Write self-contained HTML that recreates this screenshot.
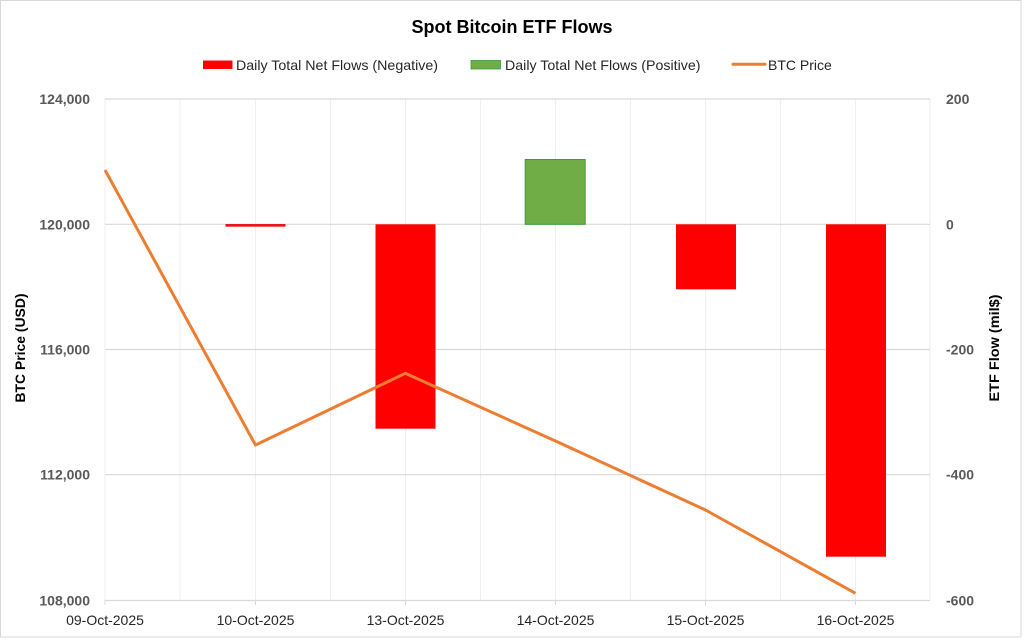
<!DOCTYPE html>
<html>
<head>
<meta charset="utf-8">
<style>
  html, body { margin: 0; padding: 0; background: #ffffff; }
  svg { display: block; }
  text { font-family: "Liberation Sans", Arial, sans-serif; }
</style>
</head>
<body>
<svg width="1024" height="639" viewBox="0 0 1024 639" xmlns="http://www.w3.org/2000/svg">
  <rect x="0" y="0" width="1024" height="639" fill="#ffffff"/>
  <rect x="0.5" y="0.5" width="1020.5" height="636.5" fill="none" stroke="#d9d9d9" stroke-width="1"/>

  <!-- Title -->
  <text x="512" y="33" text-anchor="middle" font-size="18" font-weight="bold" fill="#000">Spot Bitcoin ETF Flows</text>

  <!-- Legend -->
  <rect x="203" y="60.5" width="29.5" height="8.5" fill="#ff0000"/>
  <text x="236" y="70" font-size="14" fill="#262626" textLength="202" lengthAdjust="spacingAndGlyphs">Daily Total Net Flows (Negative)</text>
  <rect x="471" y="60.5" width="29.5" height="8.5" fill="#70ad47" stroke="#3a9c3a" stroke-width="0.8"/>
  <text x="505" y="70" font-size="14" fill="#262626" textLength="195.5" lengthAdjust="spacingAndGlyphs">Daily Total Net Flows (Positive)</text>
  <line x1="733" y1="64.3" x2="765" y2="64.3" stroke="#ed7d31" stroke-width="3" stroke-linecap="round"/>
  <text x="768" y="70" font-size="14" fill="#262626">BTC Price</text>

  <!-- Vertical gridlines -->
  <g stroke="#efefef" stroke-width="1">
    <line x1="180" y1="99" x2="180" y2="600.5"/>
    <line x1="255.5" y1="99" x2="255.5" y2="600.5"/>
    <line x1="330.5" y1="99" x2="330.5" y2="600.5"/>
    <line x1="405.5" y1="99" x2="405.5" y2="600.5"/>
    <line x1="480.5" y1="99" x2="480.5" y2="600.5"/>
    <line x1="555.5" y1="99" x2="555.5" y2="600.5"/>
    <line x1="630.5" y1="99" x2="630.5" y2="600.5"/>
    <line x1="705.5" y1="99" x2="705.5" y2="600.5"/>
    <line x1="780.5" y1="99" x2="780.5" y2="600.5"/>
    <line x1="855.5" y1="99" x2="855.5" y2="600.5"/>
    <line x1="930" y1="99" x2="930" y2="600.5"/>
    <line x1="105" y1="99" x2="105" y2="600.5"/>
  </g>

  <!-- Horizontal gridlines -->
  <g stroke="#d9d9d9" stroke-width="1.2">
    <line x1="105" y1="99" x2="930" y2="99"/>
    <line x1="105" y1="224.3" x2="930" y2="224.3"/>
    <line x1="105" y1="349.5" x2="930" y2="349.5"/>
    <line x1="105" y1="474.7" x2="930" y2="474.7"/>
    <line x1="105" y1="600.5" x2="930" y2="600.5"/>
  </g>

  <!-- X tick marks -->
  <g stroke="#d9d9d9" stroke-width="1">
    <line x1="105" y1="600.5" x2="105" y2="605"/>
    <line x1="255.5" y1="600.5" x2="255.5" y2="605"/>
    <line x1="405.5" y1="600.5" x2="405.5" y2="605"/>
    <line x1="555.5" y1="600.5" x2="555.5" y2="605"/>
    <line x1="705.5" y1="600.5" x2="705.5" y2="605"/>
    <line x1="855.5" y1="600.5" x2="855.5" y2="605"/>
  </g>

  <!-- Bars -->
  <rect x="225.5" y="224" width="60" height="2.7" fill="#e8151a"/>
  <rect x="375.5" y="224.3" width="60" height="204.4" fill="#ff0000"/>
  <rect x="525.2" y="159.5" width="60" height="64.8" fill="#70ad47" stroke="#3a9c3a" stroke-width="1"/>
  <rect x="676" y="224.3" width="60" height="65" fill="#ff0000"/>
  <rect x="826" y="224.3" width="60" height="332.4" fill="#ff0000"/>

  <!-- BTC price line -->
  <polyline points="105,170 255.5,445 405.3,373.3 555.5,441 705.5,510 855.5,593.3" fill="none" stroke="#ed7d31" stroke-width="3" stroke-linejoin="round" stroke-linecap="butt"/>

  <!-- Left axis labels -->
  <g font-size="14" font-weight="bold" fill="#595959" text-anchor="end">
    <text x="90" y="104">124,000</text>
    <text x="90" y="229.3">120,000</text>
    <text x="90" y="354.5">116,000</text>
    <text x="90" y="479.7">112,000</text>
    <text x="90" y="605.5">108,000</text>
  </g>

  <!-- Right axis labels -->
  <g font-size="14" font-weight="bold" fill="#595959" text-anchor="start">
    <text x="946" y="104">200</text>
    <text x="946" y="229.3">0</text>
    <text x="946" y="354.5">-200</text>
    <text x="946" y="479.7">-400</text>
    <text x="946" y="605.5">-600</text>
  </g>

  <!-- X axis labels -->
  <g font-size="14" fill="#262626" text-anchor="middle">
    <text x="105" y="625">09-Oct-2025</text>
    <text x="255.5" y="625">10-Oct-2025</text>
    <text x="405.5" y="625">13-Oct-2025</text>
    <text x="555.5" y="625">14-Oct-2025</text>
    <text x="705.5" y="625">15-Oct-2025</text>
    <text x="855.5" y="625">16-Oct-2025</text>
  </g>

  <!-- Axis titles -->
  <text transform="translate(25,348) rotate(-90)" text-anchor="middle" font-size="14" font-weight="bold" fill="#000" textLength="109" lengthAdjust="spacingAndGlyphs">BTC Price (USD)</text>
  <text transform="translate(999,348) rotate(-90)" text-anchor="middle" font-size="14" font-weight="bold" fill="#000" textLength="107" lengthAdjust="spacingAndGlyphs">ETF Flow (mil$)</text>
</svg>
</body>
</html>
